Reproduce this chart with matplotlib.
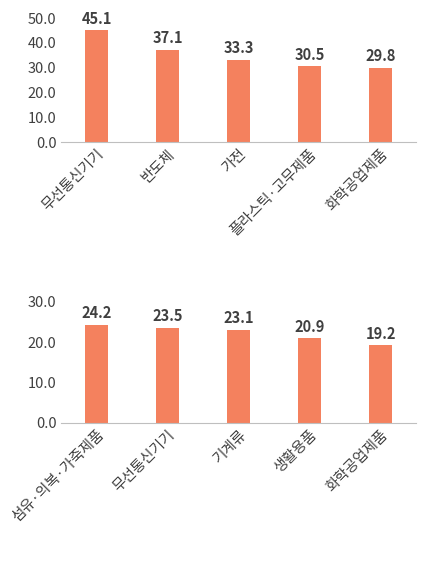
import matplotlib
matplotlib.use("Agg")
import matplotlib.pyplot as plt

plt.rcParams["font.family"] = ["Noto Sans CJK KR", "DejaVu Sans"]

TOP_CATS = ["무선통신기기", "반도체", "가전", "플라스틱·고무제품", "화학공업제품"]
TOP_VALS = [45.1, 37.1, 33.3, 30.5, 29.8]
BOT_CATS = ["섬유·의복·가죽제품", "무선통신기기", "기계류", "생활용품", "화학공업제품"]
BOT_VALS = [24.2, 23.5, 23.1, 20.9, 19.2]

BAR = "#F4815E"
TXT = "#404040"

fig = plt.figure(figsize=(4.38, 5.66), dpi=100)
ax1 = fig.add_axes([0.14, 0.749, 0.81, 0.219])
ax2 = fig.add_axes([0.14, 0.253, 0.81, 0.214])


def panel(ax, cats, vals, ymax, step):
    x = range(len(cats))
    ax.bar(x, vals, 0.32, color=BAR)
    for xi, v in zip(x, vals):
        ax.text(xi, v + ymax * 0.03, f"{v:.1f}", ha="center", va="bottom",
                fontsize=10.5, fontweight="bold", color=TXT)
    ax.set_ylim(0, ymax)
    ax.set_xlim(-0.5, len(cats) - 0.5)
    n = int(ymax / step) + 1
    ax.set_yticks([i * step for i in range(n)])
    ax.set_yticklabels([f"{i * step:.1f}" for i in range(n)], fontsize=10.5, color=TXT)
    ax.set_xticks(list(x))
    ax.set_xticklabels(cats, rotation=45, ha="right", rotation_mode="anchor",
                       fontsize=10.5, color=TXT)
    for s in ("top", "right", "left"):
        ax.spines[s].set_visible(False)
    ax.spines["bottom"].set_color("#BFBFBF")
    ax.tick_params(length=0)


panel(ax1, TOP_CATS, TOP_VALS, 50, 10)
panel(ax2, BOT_CATS, BOT_VALS, 30, 10)

fig.savefig("out.png", dpi=100)
